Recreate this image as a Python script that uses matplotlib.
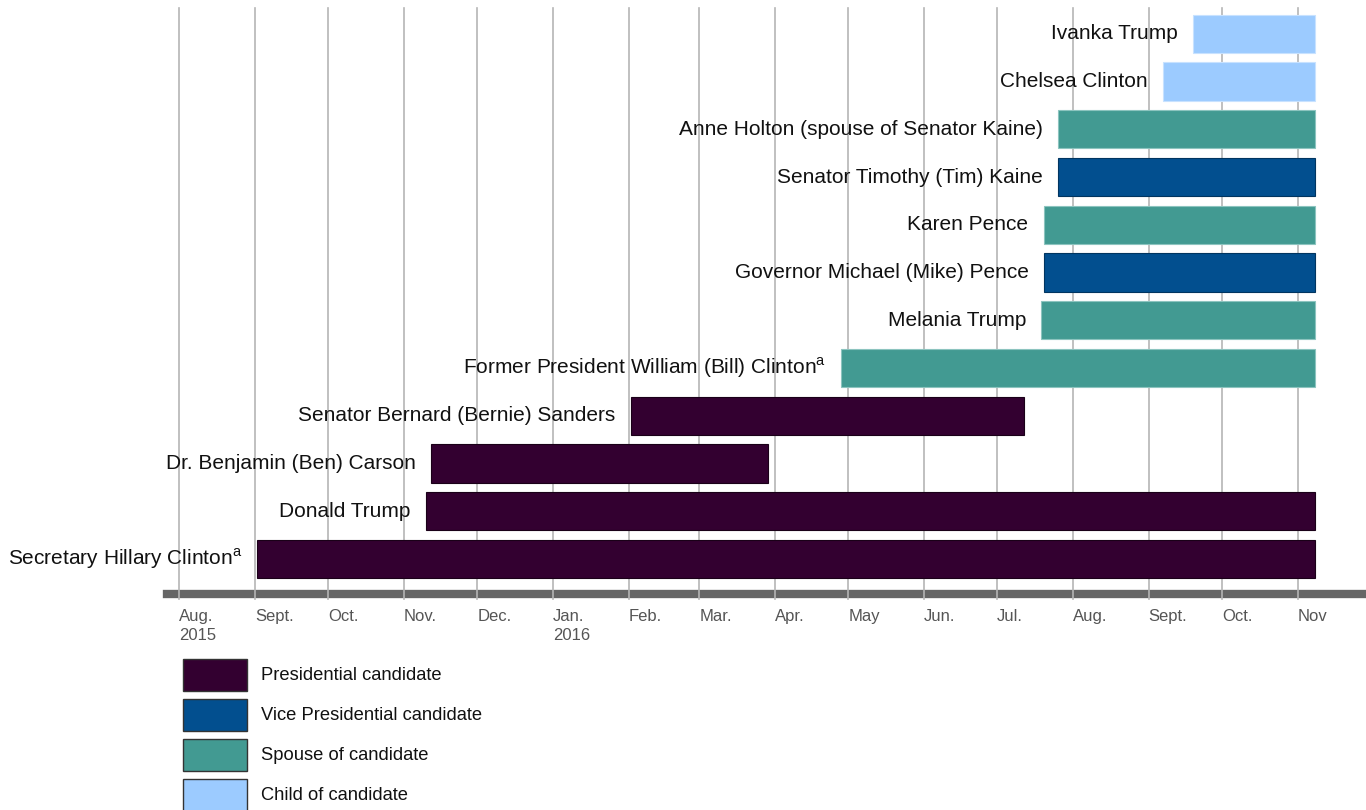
import matplotlib
matplotlib.use("Agg")
import matplotlib.pyplot as plt
import matplotlib.dates as mdates
from matplotlib.patches import Rectangle
import pandas as pd

plt.rcParams["font.family"] = ["Liberation Sans", "DejaVu Sans"]
plt.rcParams["mathtext.fontset"] = "custom"
plt.rcParams["mathtext.rm"] = "Liberation Sans"

# data: bottom row first
names = [
    r"Secretary Hillary Clinton$^{\mathrm{a}}$",
    "Donald Trump",
    "Dr. Benjamin (Ben) Carson",
    "Senator Bernard (Bernie) Sanders",
    r"Former President William (Bill) Clinton$^{\mathrm{a}}$",
    "Melania Trump",
    "Governor Michael (Mike) Pence",
    "Karen Pence",
    "Senator Timothy (Tim) Kaine",
    "Anne Holton (spouse of Senator Kaine)",
    "Chelsea Clinton",
    "Ivanka Trump",
]
starts = ["2015-09-02", "2015-11-10", "2015-11-12", "2016-02-02", "2016-04-28",
          "2016-07-19", "2016-07-20", "2016-07-20", "2016-07-26", "2016-07-26",
          "2016-09-07", "2016-09-19"]
ends = ["2016-11-08", "2016-11-08", "2016-03-29", "2016-07-12", "2016-11-08",
        "2016-11-08", "2016-11-08", "2016-11-08", "2016-11-08", "2016-11-08",
        "2016-11-08", "2016-11-08"]
roles = [0, 0, 0, 0, 2, 2, 1, 2, 1, 2, 3, 3]

role_names = ["Presidential candidate", "Vice Presidential candidate",
              "Spouse of candidate", "Child of candidate"]
role_colors = ["#330030", "#024f8f", "#429a92", "#9ccbff"]
role_edges = ["#1a0018", "#013560", "#8cc4bf", "#c8e2ff"]

tick_dates = pd.date_range("2015-08-01", "2016-11-01", freq="MS")
tick_labels = ["Aug.\n2015", "Sept.", "Oct.", "Nov.", "Dec.", "Jan.\n2016",
               "Feb.", "Mar.", "Apr.", "May", "Jun.", "Jul.", "Aug.",
               "Sept.", "Oct.", "Nov"]

W, H = 1366, 810
fig = plt.figure(figsize=(W / 100, H / 100), dpi=100)
ax = fig.add_axes([167 / W, 1 - 594 / H, 1199 / W, 586 / H])

s = mdates.date2num(pd.to_datetime(starts))
e = mdates.date2num(pd.to_datetime(ends))
y = list(range(len(names)))

for i in y:
    r = roles[i]
    ax.barh(i, e[i] - s[i], left=s[i], height=0.8, color=role_colors[r],
            edgecolor=role_edges[r], linewidth=0.8, zorder=3)
    ax.annotate(names[i], (s[i], i), xytext=(-11, 0), textcoords="offset points",
                ha="right", va="center", fontsize=15, color="#111111",
                zorder=4, annotation_clip=False)

tnum = mdates.date2num(tick_dates)
ax.set_xlim(mdates.date2num(pd.Timestamp("2015-07-27")),
            mdates.date2num(pd.Timestamp("2016-11-29")))
ax.set_ylim(-0.733, 11.54)

ax.axhline(-0.733, color="#666666", linewidth=6, zorder=1, clip_on=False)
for t in tnum:
    ax.axvline(t, color="#b5b5b5", linewidth=1.2, zorder=2,
               ymin=-0.008, ymax=1.0, clip_on=False)

ax.set_xticks(tnum)
ax.set_xticklabels(tick_labels, ha="left", va="top", fontsize=12,
                   color="#555555", linespacing=1.35)
ax.tick_params(axis="x", length=0, pad=11)
ax.set_yticks([])
for sp in ax.spines.values():
    sp.set_visible(False)

# legend drawn by hand, in figure pixels
for k, (lab, col) in enumerate(zip(role_names, role_colors)):
    top = 659 + 40 * k
    fig.add_artist(Rectangle((183 / W, 1 - (top + 32) / H), 64 / W, 32 / H,
                             transform=fig.transFigure, facecolor=col,
                             edgecolor="#333333", linewidth=1))
    fig.text(261 / W, 1 - (top + 17) / H, lab, ha="left", va="center",
             fontsize=13.2, color="#111111")

fig.savefig("out.png", dpi=100)
